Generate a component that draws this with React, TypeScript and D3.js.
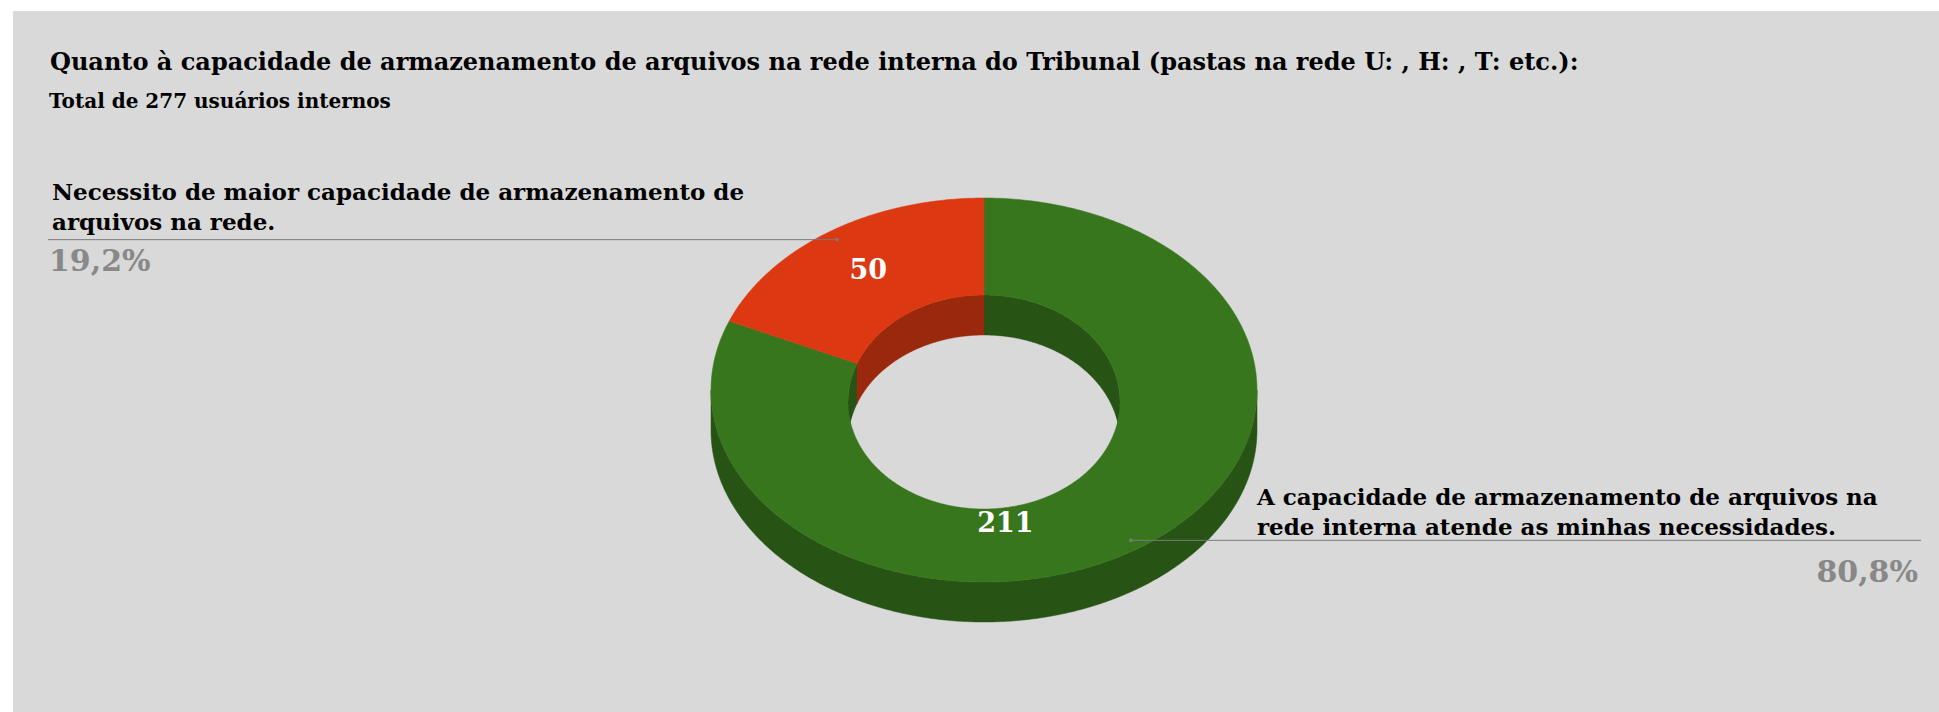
import React, { useEffect, useRef } from 'react';
import * as d3 from 'd3';

const title = 'Quanto à capacidade de armazenamento de arquivos na rede interna do Tribunal (pastas na rede U: , H: , T: etc.):';
const subtitle = 'Total de 277 usuários internos';

const categories = [
  'A capacidade de armazenamento de arquivos na rede interna atende as minhas necessidades.',
  'Necessito de maior capacidade de armazenamento de arquivos na rede.',
];
const categoryLines = [
  ['A capacidade de armazenamento de arquivos na', 'rede interna atende as minhas necessidades.'],
  ['Necessito de maior capacidade de armazenamento de', 'arquivos na rede.'],
];
const values = [211, 50];
const percentLabels = ['80,8%', '19,2%'];

const sliceColors = ['#38761d', '#dc3912'];

function App() {
  const ref = useRef<SVGSVGElement>(null);

  useEffect(() => {
    document.body.style.margin = '0';
    const width = 1939;
    const height = 712;
    const font = "'DejaVu Serif', Georgia, serif";

    const svg = d3.select(ref.current);
    svg.selectAll('*').remove();
    svg.attr('width', width).attr('height', height);

    svg.append('rect')
      .attr('x', 13).attr('y', 11)
      .attr('width', width - 13).attr('height', height - 11)
      .attr('fill', '#d9d9d9');

    svg.append('text')
      .attr('x', 50).attr('y', 70)
      .style('font-family', font).style('font-weight', 'bold').style('font-size', '24px')
      .attr('fill', '#000')
      .text(title);

    svg.append('text')
      .attr('x', 49).attr('y', 108)
      .style('font-family', font).style('font-weight', 'bold').style('font-size', '20px')
      .attr('fill', '#000')
      .text(subtitle);

    // 3d donut geometry
    const cx = 984;
    const depth = 40;
    const outer = { rx: 273, ry: 192, cy: 390 };
    const inner = { rx: 136, ry: 107, cy: 402 };
    type Ell = { rx: number; ry: number; cy: number };

    const pt = (e: Ell, a: number, z: number, f = 1): [number, number] =>
      [cx + f * e.rx * Math.sin(a), e.cy - f * e.ry * Math.cos(a) + z];
    const arcPts = (e: Ell, a0: number, a1: number, z: number) => {
      const n = Math.max(2, Math.ceil(Math.abs(a1 - a0) / 0.01));
      return d3.range(n + 1).map(i => pt(e, a0 + ((a1 - a0) * i) / n, z));
    };
    const line = d3.line();
    const band = (a: [number, number][], b: [number, number][]) => line([...a, ...b]) + 'Z';
    const clip = (s: number, e: number, lo: number, hi: number) => {
      const a = Math.max(s, lo);
      const b = Math.min(e, hi);
      return b > a ? [a, b] : null;
    };

    const pie = d3.pie<number>().sort(null).value(d => d);
    const arcs = pie(values);
    const sideColors = sliceColors.map(c => d3.color(c)!.darker(1).formatHex());

    const g = svg.append('g');

    // far inner wall (seen through the hole)
    arcs.forEach((d, i) => {
      [[0, Math.PI / 2], [Math.PI * 1.5, Math.PI * 2]].forEach(([lo, hi]) => {
        const r = clip(d.startAngle, d.endAngle, lo, hi);
        if (!r) return;
        g.append('path')
          .attr('d', band(arcPts(inner, r[0], r[1], 0), arcPts(inner, r[1], r[0], depth)))
          .attr('fill', sideColors[i])
          .attr('stroke', sideColors[i]).attr('stroke-width', 0.5);
      });
    });

    // front outer wall
    arcs.forEach((d, i) => {
      const r = clip(d.startAngle, d.endAngle, Math.PI / 2, Math.PI * 1.5);
      if (!r) return;
      g.append('path')
        .attr('d', band(arcPts(outer, r[0], r[1], 0), arcPts(outer, r[1], r[0], depth)))
        .attr('fill', sideColors[i])
        .attr('stroke', sideColors[i]).attr('stroke-width', 0.5);
    });

    // top faces
    arcs.forEach((d, i) => {
      g.append('path')
        .attr('d', band(arcPts(outer, d.startAngle, d.endAngle, 0), arcPts(inner, d.endAngle, d.startAngle, 0)))
        .attr('fill', sliceColors[i])
        .attr('stroke', sliceColors[i]).attr('stroke-width', 0.5);
    });

    // value labels on slices
    const mid = { rx: (outer.rx + inner.rx) / 2, ry: (outer.ry + inner.ry) / 2, cy: (outer.cy + inner.cy) / 2 };
    arcs.forEach(d => {
      const m = (d.startAngle + d.endAngle) / 2;
      const big = d.endAngle - d.startAngle > Math.PI;
      // large slices get their label pulled toward the front
      const a = big ? Math.PI - (Math.PI - m) / 5 : m;
      const [x, y] = pt(mid, a, 0, big ? 0.87 : 1);
      g.append('text')
        .attr('x', x).attr('y', y - 3)
        .attr('text-anchor', 'middle').attr('dominant-baseline', 'central')
        .style('font-family', font).style('font-weight', 'bold').style('font-size', '27px')
        .attr('fill', '#fff')
        .text(d.data);
    });

    // labelled legend with leader lines
    arcs.forEach((d, i) => {
      const a = (d.startAngle + d.endAngle) / 2;
      const [px, py] = pt(outer, a, 0, 0.95);
      const left = Math.sin(a) < 0;
      const lg = svg.append('g').attr('class', 'legend').attr('data-category', categories[i]);

      lg.append('line')
        .attr('x1', left ? 48 : px).attr('x2', left ? px : 1921)
        .attr('y1', py).attr('y2', py)
        .attr('stroke', '#7a7a7a').attr('stroke-width', 1);
      lg.append('circle').attr('cx', px).attr('cy', py).attr('r', 1.8).attr('fill', '#7a7a7a');

      const tx = left ? 52 : 1257;
      const offsets = left ? [-40, -10] : [-35, -5];
      categoryLines[i].forEach((t, j) => {
        lg.append('text')
          .attr('x', tx).attr('y', py + offsets[j])
          .style('font-family', font).style('font-weight', 'bold').style('font-size', '23px')
          .attr('fill', '#000')
          .text(t);
      });

      lg.append('text')
        .attr('x', left ? 49 : 1918).attr('y', py + (left ? 31 : 42))
        .attr('text-anchor', left ? 'start' : 'end')
        .style('font-family', font).style('font-weight', 'bold').style('font-size', '30px')
        .attr('fill', '#888888')
        .text(percentLabels[i]);
    });
  }, []);

  return <svg ref={ref} style={{ display: 'block' }}></svg>;
}

export default App;
